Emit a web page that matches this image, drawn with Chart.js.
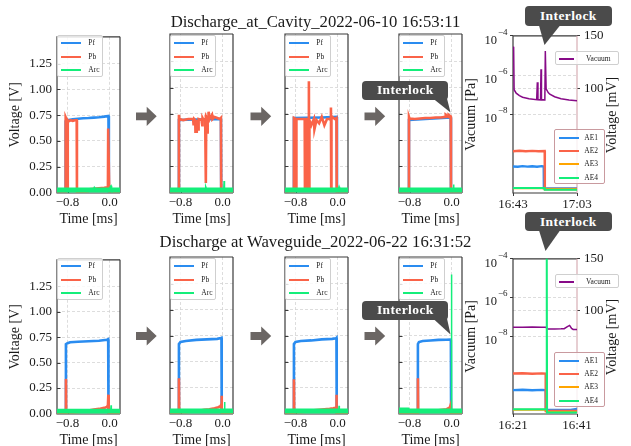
<!DOCTYPE html>
<html><head><meta charset="utf-8">
<script src="https://cdn.jsdelivr.net/npm/chart.js@4.4.1/dist/chart.umd.min.js"></script>
<style>
html,body{margin:0;padding:0;background:#fff;}
#fig{position:relative;width:631px;height:446px;overflow:hidden;font-family:'Liberation Serif','Times New Roman',Times,serif;color:#1a1a1a;}
#fig canvas{position:absolute;}
.sup{position:absolute;font-size:16.7px;line-height:1;white-space:nowrap;transform:translateX(-50%);z-index:3;}
.rot{position:absolute;font-size:14px;line-height:1;white-space:nowrap;transform:translate(-50%,-50%) rotate(-90deg);z-index:3;}
.leg{position:absolute;background:rgba(255,255,255,0.82);border:0.8px solid #cfcfcf;border-radius:2px;box-sizing:border-box;z-index:4;}
.leg .ln{position:absolute;height:2px;}
.leg .tx{position:absolute;font-size:7.5px;line-height:1;white-space:nowrap;transform:translateY(-50%);}
.call{position:absolute;background:#4b4b4b;border-radius:4px;color:#fff;font-weight:bold;font-size:13.5px;letter-spacing:0.4px;display:flex;align-items:center;justify-content:center;z-index:6;}
#over{position:absolute;left:0;top:0;z-index:5;pointer-events:none;}
</style></head>
<body><div id="fig"></div>
<script>
// ---------------- DATA (times in ms / minutes) ----------------
// Row 1: Discharge at Cavity
const c1PfT=[-1.0,-0.84,-0.835,-0.80,-0.70,-0.60,-0.50,-0.40,-0.30,-0.20,-0.10,-0.02,-0.012,0.2];
const c1PfV=[0.01,0.01,0.69,0.70,0.71,0.715,0.72,0.722,0.726,0.73,0.736,0.742,0.01,0.01];
const c1PbT=[-1.0,-0.84,-0.835,-0.81,-0.80,-0.795,-0.78,-0.74,-0.70,-0.66,-0.625,-0.62,-0.50,-0.42,-0.41,-0.30,-0.20,-0.10,-0.04,-0.03,-0.025,-0.01,-0.005,0.2];
const c1PbV=[0.01,0.01,0.73,0.70,0.02,0.70,0.69,0.70,0.695,0.70,0.70,0.01,0.01,0.012,0.03,0.035,0.04,0.045,0.05,0.07,0.62,0.62,0.01,0.01];
const c1ArcT=[-1.0,-0.3,-0.29,-0.28,0.0,0.02,0.03,0.04,0.2];
const c1ArcV=[0.04,0.04,0.05,0.04,0.04,0.06,0.065,0.04,0.04];

const c2PfT=[-1.0,-0.835,-0.83,-0.5,-0.03,-0.025,0.2];
const c2PfV=[0.01,0.01,0.69,0.695,0.70,0.01,0.01];
const c2PbT=[-1.0,-0.835,-0.83,-0.82,-0.75,-0.65,-0.56,-0.55,-0.54,-0.52,-0.515,-0.49,-0.485,-0.46,-0.455,-0.40,-0.385,-0.38,-0.37,-0.33,-0.32,-0.315,-0.31,-0.29,-0.285,-0.28,-0.27,-0.265,-0.25,-0.20,-0.19,-0.15,-0.10,-0.05,-0.03,-0.025,0.2];
const c2PbV=[0.01,0.01,0.74,0.70,0.69,0.70,0.70,0.64,0.70,0.69,0.58,0.58,0.69,0.60,0.70,0.69,0.64,0.71,0.70,0.69,0.74,0.09,0.72,0.70,0.56,0.73,0.68,0.77,0.70,0.74,0.70,0.72,0.71,0.70,0.71,0.01,0.01];
const c2ArcT=[-1.0,-0.33,-0.32,-0.31,0.025,0.03,0.035,0.04,0.2];
const c2ArcV=[0.04,0.04,0.055,0.04,0.04,0.11,0.10,0.04,0.04];

const c3PfT=[-1.0,-0.835,-0.83,-0.30,-0.015,-0.01,0.2];
const c3PfV=[0.01,0.01,0.71,0.715,0.72,0.01,0.01];
const c3PbT=[-1.0,-0.835,-0.83,-0.79,-0.785,-0.78,-0.70,-0.625,-0.62,-0.615,-0.58,-0.575,-0.57,-0.55,-0.545,-0.54,-0.535,-0.50,-0.45,-0.44,-0.40,-0.35,-0.30,-0.25,-0.20,-0.15,-0.13,-0.125,-0.12,-0.115,-0.10,-0.05,-0.02,-0.015,0.2];
const c3PbV=[0.01,0.01,0.71,0.70,0.01,0.70,0.70,0.70,0.01,0.70,0.70,0.01,0.69,0.70,1.06,0.02,0.69,0.64,0.70,0.60,0.69,0.66,0.72,0.64,0.70,0.70,0.69,0.81,0.02,0.70,0.72,0.70,0.71,0.01,0.01];
const c3ArcT=[-1.0,0.02,0.03,0.04,0.2];
const c3ArcV=[0.04,0.04,0.055,0.04,0.04];

const c4PfT=[-1.0,-0.815,-0.81,-0.5,-0.015,-0.01,0.2];
const c4PfV=[0.01,0.01,0.69,0.70,0.715,0.01,0.01];
const c4PbT=[-1.0,-0.815,-0.81,-0.80,-0.70,-0.60,-0.50,-0.40,-0.30,-0.20,-0.12,-0.11,-0.06,-0.055,-0.015,-0.01,0.2];
const c4PbV=[0.01,0.01,0.72,0.705,0.70,0.705,0.71,0.71,0.715,0.715,0.72,0.74,0.72,0.74,0.725,0.01,0.01];
const c4ArcT=[-1.0,0.035,0.04,0.045,0.2];
const c4ArcV=[0.04,0.04,0.075,0.04,0.04];

// Row 2: Discharge at Waveguide
const w1PfT=[-1.0,-0.835,-0.83,-0.80,-0.75,-0.60,-0.40,-0.20,-0.05,-0.025,-0.02,0.2];
const w1PfV=[0.01,0.01,0.68,0.69,0.70,0.705,0.71,0.715,0.725,0.73,0.01,0.01];
const w1PbT=[-1.0,-0.835,-0.83,-0.825,-0.70,-0.57,-0.50,-0.40,-0.30,-0.20,-0.10,-0.05,-0.03,-0.022,-0.018,-0.012,0.2];
const w1PbV=[0.005,0.005,0.34,0.01,0.01,0.015,0.025,0.03,0.04,0.045,0.055,0.065,0.08,0.185,0.08,0.005,0.005];
const w1ArcT=[-1.0,0.025,0.03,0.035,0.2];
const w1ArcV=[0.04,0.04,0.08,0.04,0.04];

const w2PfT=[-1.0,-0.835,-0.83,-0.80,-0.70,-0.50,-0.30,-0.10,-0.03,-0.02,-0.015,0.2];
const w2PfV=[0.01,0.01,0.67,0.69,0.70,0.71,0.715,0.72,0.728,0.73,0.01,0.01];
const w2PbT=[-1.0,-0.835,-0.83,-0.825,-0.70,-0.55,-0.45,-0.35,-0.25,-0.15,-0.08,-0.04,-0.02,-0.017,-0.012,0.2];
const w2PbV=[0.005,0.005,0.34,0.01,0.012,0.02,0.025,0.035,0.04,0.05,0.06,0.07,0.09,0.17,0.005,0.005];
const w2ArcT=[-1.0,0.035,0.04,0.045,0.2];
const w2ArcV=[0.04,0.04,0.11,0.04,0.04];

const w3PfT=[-1.0,-0.835,-0.83,-0.80,-0.70,-0.50,-0.30,-0.10,-0.03,-0.02,-0.015,0.2];
const w3PfV=[0.01,0.01,0.67,0.69,0.70,0.705,0.715,0.72,0.725,0.73,0.01,0.01];
const w3PbT=[-1.0,-0.835,-0.83,-0.825,-0.70,-0.55,-0.45,-0.35,-0.25,-0.15,-0.08,-0.04,-0.025,-0.02,-0.015,0.2];
const w3PbV=[0.005,0.005,0.33,0.01,0.012,0.02,0.03,0.035,0.04,0.045,0.05,0.055,0.06,0.18,0.005,0.005];
const w3ArcT=[-1.0,0.025,0.03,0.035,0.2];
const w3ArcV=[0.04,0.04,0.075,0.04,0.04];

const w4PfT=[-1.0,-0.645,-0.64,-0.62,-0.55,-0.40,-0.25,-0.10,-0.02,-0.012,-0.008,0.2];
const w4PfV=[0.01,0.01,0.67,0.69,0.70,0.705,0.71,0.712,0.713,0.715,0.01,0.01];
const w4PbT=[-1.0,-0.645,-0.64,-0.635,-0.55,-0.40,-0.25,-0.10,-0.03,-0.012,-0.008,0.2];
const w4PbV=[0.005,0.005,0.34,0.015,0.02,0.025,0.03,0.04,0.06,0.09,0.005,0.005];
const w4ArcT=[-1.0,-0.82,-0.8,-0.7,-0.004,0.0,0.004,0.2];
const w4ArcV=[0.05,0.05,0.04,0.04,0.04,1.34,0.04,0.04];

// Vacuum / AE panels (minutes from left edge)
const v1VacT=[0.0,0.2,0.35,1.0,2.0,3.0,5.0,7.4,7.6,7.8,8.6,8.75,8.9,9.95,10.1,10.35,11.0,11.5,13.0,15.0,17.5,20.0];
const v1VacV=[2.8e-5,2.5e-5,1.8e-7,1.2e-7,9e-8,7.5e-8,6.3e-8,5.6e-8,4.3e-7,5.6e-8,5.5e-8,2.0e-6,5.6e-8,5.5e-8,1.7e-5,2.0e-7,1.3e-7,1.07e-7,7.9e-8,6.3e-8,5.4e-8,4.9e-8];
const v1Ae1T=[0,1.5,3,4.5,6,7.5,9.0,9.6,9.65,20];
const v1Ae1V=[25.3,25.0,25.6,25.2,25.5,25.1,25.6,25.3,4.4,4.4];
const v1Ae2T=[0,2,4,6,8,9.9,9.95,20];
const v1Ae2V=[39.9,40.3,39.8,40.2,39.9,40.0,3.8,3.8];
const v1Ae3T=[0,9.9,9.95,20];
const v1Ae3V=[4.6,4.6,3.5,3.5];
const v1Ae4T=[0,9.9,9.95,20];
const v1Ae4V=[4.8,4.8,3.2,3.2];

const v2VacT=[0,3,6,9,10.2,10.9,13,15,16.0,17.0,17.7,18.3,18.8,20];
const v2VacV=[3.0e-8,3.0e-8,3.05e-8,3.0e-8,3.0e-8,2.4e-8,2.4e-8,2.45e-8,2.5e-8,3.2e-8,3.7e-8,2.6e-8,2.3e-8,2.3e-8];
const v2Ae1T=[0,3,6,9,10.2,10.25,18,20];
const v2Ae1V=[23.1,23.4,22.9,23.3,23.1,3.9,3.9,5.0];
const v2Ae2T=[0,3,6,9,10.2,10.25,20];
const v2Ae2V=[39.1,39.4,38.9,39.3,39.1,2.9,2.9];
const v2Ae3T=[0,10.5,10.55,20];
const v2Ae3V=[4.0,4.0,2.0,2.0];
const v2Ae4T=[0,10.5,10.55,10.65,20];
const v2Ae4V=[4.5,4.5,160,1.5,1.5];

const waveXTicks=[-0.8,0.0];
const waveYTicks=[0,0.25,0.5,0.75,1.0,1.25];
const vacYTicks=[1e-8,1e-6,1e-4];
const aeYTicks=[100,150];
const row1Time=['16:43','17:03'];
const row2Time=['16:21','16:41'];
const titles=['Discharge_at_Cavity_2022-06-10 16:53:11','Discharge at Waveguide_2022-06-22 16:31:52'];

// ---------------- STYLE ----------------
const FONT="'Liberation Serif','Times New Roman',Times,serif";
Chart.defaults.font.family=FONT;
Chart.defaults.color='#1a1a1a';
const C_PF='#2a8cf0', C_PB='#fa6348', C_ARC='#14ee7a', C_AE3='#ffa500', C_VAC='#870a87';
const GRID='#d4d4d4', SPINE='#3a3a3a';

const fig=document.getElementById('fig');
const pts=(T,V)=>T.map((t,i)=>({x:t,y:V[i]}));

const framePlugin={
  id:'frame',
  beforeDatasetsDraw(chart,args,o){
    const {ctx,chartArea:a}=chart;
    ctx.save();
    ctx.lineWidth=1.2; ctx.strokeStyle=SPINE;
    ctx.beginPath();
    ctx.moveTo(a.right,a.top); ctx.lineTo(a.left,a.top); ctx.lineTo(a.left,a.bottom); ctx.lineTo(a.right,a.bottom);
    ctx.stroke();
    ctx.strokeStyle=o.rightColor||SPINE;
    ctx.beginPath(); ctx.moveTo(a.right,a.top); ctx.lineTo(a.right,a.bottom); ctx.stroke();
    if(o.inTicks){
      ctx.strokeStyle=SPINE; ctx.lineWidth=1;
      const ys=chart.scales.y, xs=chart.scales.x;
      ys.ticks.forEach(t=>{const p=Math.round(ys.getPixelForValue(t.value))+0.5;ctx.beginPath();ctx.moveTo(a.left,p);ctx.lineTo(a.left+3.5,p);ctx.stroke();});
      xs.ticks.forEach(t=>{const p=Math.round(xs.getPixelForValue(t.value))+0.5;ctx.beginPath();ctx.moveTo(p,a.bottom);ctx.lineTo(p,a.bottom-3.5);ctx.stroke();});
    }
    ctx.restore();
  },
  afterDraw(chart,args,o){
    if(!o.logLabels) return;
    const {ctx,chartArea:a}=chart; const ys=chart.scales.y;
    ctx.save(); ctx.fillStyle='#1a1a1a';
    ys.ticks.forEach(t=>{
      const p=ys.getPixelForValue(t.value);
      const e=Math.round(Math.log10(t.value));
      ctx.font='12.5px '+FONT; ctx.textAlign='right'; ctx.textBaseline='middle';
      ctx.fillText('10',a.left-16,p+4.5);
      ctx.font='9px '+FONT; ctx.textAlign='left';
      ctx.fillText('\u2212'+Math.abs(e),a.left-15,p-3.5);
    });
    ctx.restore();
  }
};

function legend(x,y,w,h,items,y0,dy,lx,lw,tx,border){
  const d=document.createElement('div'); d.className='leg';
  Object.assign(d.style,{left:x+'px',top:y+'px',width:w+'px',height:h+'px'});
  if(border) d.style.borderColor=border;
  items.forEach((it,i)=>{
    const l=document.createElement('div'); l.className='ln';
    Object.assign(l.style,{left:lx+'px',top:(y0+i*dy-1)+'px',width:lw+'px',background:it[1]});
    const t=document.createElement('div'); t.className='tx'; t.textContent=it[0];
    Object.assign(t.style,{left:tx+'px',top:(y0+i*dy)+'px'});
    d.appendChild(l); d.appendChild(t);
  });
  fig.appendChild(d);
}

function wavePanel(left,top,h,s,showY){
  const L=50,R=20,T=10,B=36,W=63;
  const cv=document.createElement('canvas');
  cv.width=L+W+R; cv.height=T+h+B;
  cv.style.left=(left-L)+'px'; cv.style.top=(top-T)+'px';
  fig.appendChild(cv);
  new Chart(cv,{
    type:'line',
    data:{datasets:[
      {label:'Arc',data:pts(s.arcT,s.arcV),borderColor:C_ARC,backgroundColor:C_ARC,fill:'origin',borderWidth:1.5,order:0,clip:0},
      {label:'Pb',data:pts(s.pbT,s.pbV),borderColor:C_PB,borderWidth:2.6,order:1,clip:0},
      {label:'Pf',data:pts(s.pfT,s.pfV),borderColor:C_PF,borderWidth:2.6,order:2,clip:0}
    ]},
    options:{
      responsive:false,animation:false,events:[],
      layout:{padding:{left:0,top:T,right:R,bottom:0}},
      elements:{point:{radius:0},line:{tension:0,borderJoinStyle:'miter'}},
      plugins:{legend:{display:false},tooltip:{enabled:false},frame:{inTicks:true}},
      scales:{
        x:{type:'linear',min:-1.0,max:0.2,
          afterBuildTicks:sc=>{sc.ticks=waveXTicks.map(v=>({value:v}));},
          afterFit:sc=>{sc.height=B;},
          ticks:{padding:2,font:{size:13},maxRotation:0,autoSkip:false,color:'#1a1a1a',
            callback:v=>(v<0?'\u2212':'')+Math.abs(v).toFixed(1)},
          grid:{color:GRID,lineWidth:0.8,drawTicks:false},
          border:{display:false,dash:[3,2]},
          title:{display:true,text:'Time [ms]',font:{size:14},color:'#1a1a1a',padding:{top:0,bottom:1}}},
        y:{type:'linear',min:-0.005,max:1.51,
          afterBuildTicks:sc=>{sc.ticks=waveYTicks.map(v=>({value:v}));},
          afterFit:sc=>{sc.width=L;},
          ticks:{display:showY,padding:5,font:{size:13},color:'#1a1a1a',callback:v=>v.toFixed(2)},
          grid:{color:c=>c.tick&&c.tick.value===0?'rgba(0,0,0,0)':GRID,lineWidth:0.8,drawTicks:false},
          border:{display:false,dash:[3,2]},
          title:{display:showY,text:'Voltage [V]',font:{size:14},color:'#1a1a1a',padding:{top:0,bottom:0}}}
      }
    },
    plugins:[framePlugin]
  });
  legend(left+0.3,top+1,46,42,[['Pf',C_PF],['Pb',C_PB],['Arc',C_ARC]],7.3,13.5,2.7,20,30);
}

function vacPanel(top,h,d,xl){
  const L=50,R=44,T=10,B=36,W=64,left=513;
  const cv=document.createElement('canvas');
  cv.width=L+W+R; cv.height=T+h+B;
  cv.style.left=(left-L)+'px'; cv.style.top=(top-T)+'px';
  fig.appendChild(cv);
  new Chart(cv,{
    type:'line',
    data:{datasets:[
      {label:'AE4',data:pts(d.a4T,d.a4V),borderColor:C_ARC,borderWidth:2,yAxisID:'y2',order:0,clip:0},
      {label:'AE3',data:pts(d.a3T,d.a3V),borderColor:C_AE3,borderWidth:2,yAxisID:'y2',order:1,clip:0},
      {label:'AE2',data:pts(d.a2T,d.a2V),borderColor:C_PB,borderWidth:2.4,yAxisID:'y2',order:2,clip:0},
      {label:'AE1',data:pts(d.a1T,d.a1V),borderColor:C_PF,borderWidth:2.4,yAxisID:'y2',order:3,clip:0},
      {label:'Vacuum',data:pts(d.vT,d.vV),borderColor:C_VAC,borderWidth:1.5,yAxisID:'y',order:4,clip:0}
    ]},
    options:{
      responsive:false,animation:false,events:[],
      layout:{padding:{left:0,top:T,right:0,bottom:0}},
      elements:{point:{radius:0},line:{tension:0}},
      plugins:{legend:{display:false},tooltip:{enabled:false},frame:{rightColor:'#d7aeb4',logLabels:true}},
      scales:{
        x:{type:'linear',min:0,max:20,
          afterBuildTicks:sc=>{sc.ticks=[{value:0},{value:20}];},
          afterFit:sc=>{sc.height=B;},
          ticks:{padding:1,font:{size:13},maxRotation:0,autoSkip:false,color:'#1a1a1a',
            callback:(v,i)=>xl[i]},
          grid:{drawOnChartArea:false,drawTicks:true,tickLength:3,tickColor:SPINE,tickWidth:1},
          border:{display:false}},
        y:{type:'logarithmic',position:'left',min:1e-12,max:1e-4,
          afterBuildTicks:sc=>{sc.ticks=vacYTicks.map(v=>({value:v}));},
          afterFit:sc=>{sc.width=L;},
          ticks:{display:false},
          grid:{color:c=>c.tick&&c.tick.value>=1e-4?'rgba(0,0,0,0)':GRID,lineWidth:0.8,drawTicks:true,tickLength:3,tickColor:SPINE,tickWidth:1},
          border:{display:false,dash:[3,2]},
          title:{display:true,text:'Vacuum [Pa]',font:{size:14},color:'#1a1a1a',padding:{top:0,bottom:0}}},
        y2:{type:'linear',position:'right',min:0,max:150,
          afterBuildTicks:sc=>{sc.ticks=aeYTicks.map(v=>({value:v}));},
          afterFit:sc=>{sc.width=R;},
          ticks:{padding:4,font:{size:13},color:'#1a1a1a'},
          grid:{color:c=>c.tick&&c.tick.value===100?GRID:'rgba(0,0,0,0)',lineWidth:0.8,drawTicks:true,tickLength:3,tickColor:SPINE,tickWidth:1},
          border:{display:false,dash:[3,2]}}
      }
    },
    plugins:[framePlugin]
  });
  legend(555,top+17,64.3,14,[['Vacuum',C_VAC]],7.3,0,3.3,14.5,30);
  legend(554.3,top+95.3,51,55,[['AE1',C_PF],['AE2',C_PB],['AE3',C_AE3],['AE4',C_ARC]],7.7,13.2,4,19.4,29,'#c99a9f');
  const r=document.createElement('div'); r.className='rot'; r.textContent='Voltage [mV]';
  r.style.left='612px'; r.style.top=(top+h/2+1)+'px'; fig.appendChild(r);
}

// titles
[[14.3,titles[0]],[234.3,titles[1]]].forEach(([y,t])=>{
  const d=document.createElement('div'); d.className='sup'; d.textContent=t;
  d.style.left='315.5px'; d.style.top=y+'px'; fig.appendChild(d);
});

const rows=[
  {top:34,h:159,p:[
    {pfT:c1PfT,pfV:c1PfV,pbT:c1PbT,pbV:c1PbV,arcT:c1ArcT,arcV:c1ArcV},
    {pfT:c2PfT,pfV:c2PfV,pbT:c2PbT,pbV:c2PbV,arcT:c2ArcT,arcV:c2ArcV},
    {pfT:c3PfT,pfV:c3PfV,pbT:c3PbT,pbV:c3PbV,arcT:c3ArcT,arcV:c3ArcV},
    {pfT:c4PfT,pfV:c4PfV,pbT:c4PbT,pbV:c4PbV,arcT:c4ArcT,arcV:c4ArcV}],
   v:{vT:v1VacT,vV:v1VacV,a1T:v1Ae1T,a1V:v1Ae1V,a2T:v1Ae2T,a2V:v1Ae2V,a3T:v1Ae3T,a3V:v1Ae3V,a4T:v1Ae4T,a4V:v1Ae4V},xl:row1Time},
  {top:257,h:157,p:[
    {pfT:w1PfT,pfV:w1PfV,pbT:w1PbT,pbV:w1PbV,arcT:w1ArcT,arcV:w1ArcV},
    {pfT:w2PfT,pfV:w2PfV,pbT:w2PbT,pbV:w2PbV,arcT:w2ArcT,arcV:w2ArcV},
    {pfT:w3PfT,pfV:w3PfV,pbT:w3PbT,pbV:w3PbV,arcT:w3ArcT,arcV:w3ArcV},
    {pfT:w4PfT,pfV:w4PfV,pbT:w4PbT,pbV:w4PbV,arcT:w4ArcT,arcV:w4ArcV}],
   v:{vT:v2VacT,vV:v2VacV,a1T:v2Ae1T,a1V:v2Ae1V,a2T:v2Ae2T,a2V:v2Ae2V,a3T:v2Ae3T,a3V:v2Ae3V,a4T:v2Ae4T,a4V:v2Ae4V},xl:row2Time}
];
const panelLefts=[57,170,285,399];
rows.forEach(r=>{
  r.p.forEach((s,i)=>wavePanel(panelLefts[i],r.top,r.h,s,i===0));
  vacPanel(r.top,r.h,r.v,r.xl);
});

// arrows + callout pointers (decorations)
const NS='http://www.w3.org/2000/svg';
const svg=document.createElementNS(NS,'svg');
svg.setAttribute('id','over'); svg.setAttribute('width','631'); svg.setAttribute('height','446');
function poly(p,fill){const e=document.createElementNS(NS,'polygon');e.setAttribute('points',p.map(q=>q.join(',')).join(' '));e.setAttribute('fill',fill);svg.appendChild(e);}
[[136,116.3],[250.5,116.3],[364.5,116.3],[136,336],[250.5,336],[364.5,336]].forEach(([x,cy])=>{
  poly([[x,cy-3.9],[x+10.7,cy-3.9],[x+10.7,cy-9.6],[x+20.7,cy],[x+10.7,cy+9.6],[x+10.7,cy+3.9],[x,cy+3.9]],'#6b6664');
});
poly([[433,98.5],[447,98.5],[450.5,112.5]],'#4b4b4b');
poly([[433,318.5],[447,318.5],[450.5,334.5]],'#4b4b4b');
poly([[539,25.5],[560,25.5],[544.5,45]],'#4b4b4b');
poly([[539,230.5],[560,230.5],[545.5,251]],'#4b4b4b');
fig.appendChild(svg);

function callout(x,y,w,h){const d=document.createElement('div');d.className='call';d.textContent='Interlock';
  Object.assign(d.style,{left:x+'px',top:y+'px',width:w+'px',height:h+'px'});fig.appendChild(d);}
callout(362.3,81,86,18.5);
callout(362.3,301,86,18.5);
callout(525,6,86.7,20);
callout(525,212,86.7,19);
</script>
</body></html>
